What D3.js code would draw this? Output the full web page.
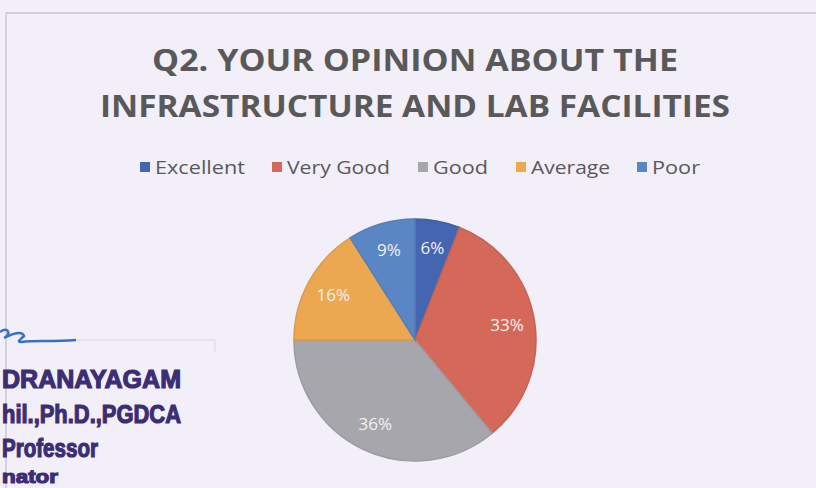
<!DOCTYPE html>
<html><head><meta charset="utf-8">
<script src="https://cdn.jsdelivr.net/npm/d3@7"></script>
<style>html,body{margin:0;padding:0;background:#f2eff9;}svg{display:block;}</style>
</head><body>
<svg id="chart" width="816" height="488"></svg>
<script>
const categories = ["Excellent", "Very Good", "Good", "Average", "Poor"];
const values = [6, 33, 36, 16, 9];
const colors = ["#4466b0", "#d4695a", "#a8a6ad", "#eba851", "#5b86c4"];
const titleLines = ["Q2. YOUR OPINION ABOUT THE", "INFRASTRUCTURE AND LAB FACILITIES"];
const stampLines = ["DRANAYAGAM", "hil.,Ph.D.,PGDCA", "Professor", "nator"];

const svg = d3.select("#chart");
const W = 816, H = 488;

// chart area border
svg.append("path").attr("d", `M6,${H} V13 H${W}`).attr("fill", "none")
  .attr("stroke", "#c9c7d1").attr("stroke-width", 1.5);

// title
const title = svg.append("g").attr("font-family", "'Open Sans', sans-serif")
  .attr("font-weight", "bold").attr("fill", "#595959").attr("text-anchor", "middle");
const titleWidths = [526, 630];
titleLines.forEach((t, i) => {
  title.append("text").attr("x", 415).attr("y", 71 + i * 46)
    .attr("font-size", 30).attr("textLength", titleWidths[i]).attr("lengthAdjust", "spacingAndGlyphs").text(t);
});

// legend
const legendX = [140, 272, 418, 516, 637];
const legend = svg.append("g").attr("font-family", "'Open Sans', sans-serif").attr("font-size", 19).attr("fill", "#595959");
const legendTextW = [90, 103, 55, 79, 48];
categories.forEach((c, i) => {
  const g = legend.append("g").attr("transform", `translate(${legendX[i]},167)`);
  g.append("rect").attr("x", 0).attr("y", -5).attr("width", 10).attr("height", 10).attr("fill", colors[i]);
  g.append("text").attr("x", 15).attr("y", 7).attr("textLength", legendTextW[i]).attr("lengthAdjust", "spacingAndGlyphs").text(c);
});

// pie
const cx = 415, cy = 340, r = 121;
const pie = d3.pie().sort(null).value(d => d)(values);
const arc = d3.arc().innerRadius(0).outerRadius(r);
const labelArc = d3.arc().innerRadius(r * 0.77).outerRadius(r * 0.77);
const pg = svg.append("g").attr("transform", `translate(${cx},${cy})`);
pg.selectAll("path").data(pie).join("path")
  .attr("d", arc).attr("fill", (d, i) => colors[i])
  .attr("stroke", (d, i) => d3.color(colors[i]).darker(0.2)).attr("stroke-width", 1.5);
const total = d3.sum(values);
pg.selectAll("text").data(pie).join("text")
  .attr("transform", d => `translate(${labelArc.centroid(d)})`)
  .attr("text-anchor", "middle").attr("dy", "0.35em")
  .attr("font-family", "'Open Sans', sans-serif").attr("font-size", 17)
  .attr("fill", "#f4f0f0")
  .text(d => Math.round(d.data / total * 100) + "%");

// stamp overlay
const stamp = svg.append("g");
stamp.append("path").attr("d", "M0,332 C8,326 12,334 4,338 C12,334 22,330 24,336 C20,340 16,342 22,342 C34,340 50,342 76,340")
  .attr("fill", "none").attr("stroke", "#3a6fc8").attr("stroke-width", 2.5);
stamp.append("path").attr("d", "M76,340 H215 V352").attr("fill", "none").attr("stroke", "#d8d5de").attr("stroke-width", 1);
const stampY = [388, 423, 457, 483];
const stampW = [179, 179, 96, 56];
const stampSize = [26, 26, 26, 19];
stampLines.forEach((t, i) => {
  stamp.append("text").attr("x", 2).attr("y", stampY[i])
    .attr("font-family", "'Liberation Sans', Arial, sans-serif").attr("font-weight", "bold")
    .attr("font-size", stampSize[i]).attr("fill", "#3b2e73")
    .attr("textLength", stampW[i]).attr("lengthAdjust", "spacingAndGlyphs")
    .attr("stroke", "#3b2e73").attr("stroke-width", 1.2)
    .text(t);
});
</script>
</body></html>
